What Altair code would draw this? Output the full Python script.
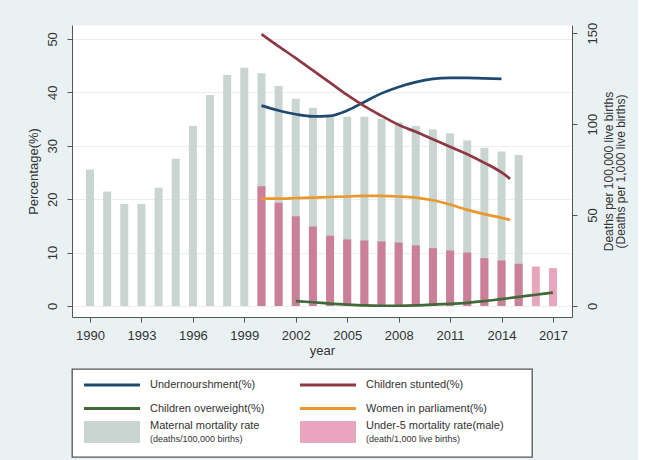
import altair as alt
import pandas as pd

# ---- data -------------------------------------------------------------
years_mmr = list(range(1990, 2016))
maternal = [75, 63, 56, 56, 65, 81, 99, 116, 127, 131, 128, 121, 114, 109,
            105, 104, 104, 103, 101, 99, 97, 95, 91, 87, 85, 83]

years_u5 = list(range(2000, 2018))
under5_male = [65.8, 56.8, 49.3, 43.7, 38.6, 36.6, 36.0, 35.5, 34.9, 33.3,
               31.8, 30.5, 29.4, 26.3, 25.0, 23.2, 21.7, 20.8]

years_under = list(range(2000, 2015))
undernourishment = [37.5, 36.6, 35.9, 35.5, 35.6, 36.6, 38.2, 39.8, 41.0,
                    41.9, 42.5, 42.7, 42.7, 42.6, 42.5]

years_stunt = list(range(2000, 2015)) + [2014.5]
stunted = [50.9, 48.6, 46.4, 44.1, 41.8, 39.5, 37.4, 35.6, 33.9, 32.6, 31.2,
           29.8, 28.4, 26.8, 25.0, 23.8]

years_women = list(range(2000, 2015)) + [2014.5]
women = [20.1, 20.1, 20.2, 20.3, 20.4, 20.5, 20.6, 20.6, 20.5, 20.3, 19.8,
         19.0, 18.0, 17.2, 16.5, 16.1]

years_over = list(range(2002, 2018))
overweight = [0.9, 0.7, 0.45, 0.25, 0.1, 0.05, 0.05, 0.1, 0.25, 0.4, 0.6,
              0.9, 1.3, 1.7, 2.1, 2.5]

year_ticks = list(range(1990, 2018, 3))

# series names / legend texts
S_UNDER = "Undernourshment(%)"
S_STUNT = "Children stunted(%)"
S_OVER = "Children overweight(%)"
S_WOMEN = "Women in parliament(%)"
B_MMR = "Maternal"
B_U5_OVER = "Under-5 (overlap)"
B_U5 = "Under-5"

keys = [S_UNDER, S_STUNT, S_OVER, S_WOMEN, B_MMR, B_U5_OVER, B_U5]
palette = ["#1f4a70", "#8e3845", "#42693a", "#e8982c",
           "#c9d5d0", "#cc7f99", "#e9a5bd"]
color_scale = alt.Scale(domain=keys, range=palette)

FONT = "Liberation Sans"

# ---- tables -----------------------------------------------------------
mmr_df = pd.DataFrame({"year": years_mmr, "value": maternal, "key": B_MMR})
mmr_years = set(years_mmr)
u5_df = pd.DataFrame({
    "year": years_u5,
    "value": under5_male,
    "key": [B_U5_OVER if y in mmr_years else B_U5 for y in years_u5],
})

lines_df = pd.concat([
    pd.DataFrame({"year": years_under, "value": undernourishment, "key": S_UNDER}),
    pd.DataFrame({"year": years_stunt, "value": stunted, "key": S_STUNT}),
    pd.DataFrame({"year": years_over, "value": overweight, "key": S_OVER}),
    pd.DataFrame({"year": years_women, "value": women, "key": S_WOMEN}),
], ignore_index=True)

# ---- main panel -------------------------------------------------------
x_enc = alt.X(
    "year:Q",
    scale=alt.Scale(domain=[1988.95, 2018.11], nice=False, zero=False, padding=0),
    axis=alt.Axis(values=year_ticks, format="d", title="year", grid=False,
                  tickSize=5, labelPadding=7, titlePadding=2,
                  labelFontSize=13, titleFontSize=13),
)

y_right = alt.Y(
    "value:Q",
    stack=None,
    scale=alt.Scale(domain=[-6.07, 154.5], nice=False, zero=False),
    axis=alt.Axis(orient="right", values=[0, 50, 100, 150],
                  title=["Deaths per 100,000 live births",
                         "(Deaths per 1,000 live births)"],
                  labelAngle=270, titleAngle=270, grid=False,
                  tickSize=5, labelPadding=9, titlePadding=4,
                  labelFontSize=13, titleFontSize=12, titleLineHeight=12,
                  titleFontWeight="normal"),
)
bar_color = alt.Color("key:N", scale=color_scale, legend=None)

mmr_bars = alt.Chart(mmr_df).mark_bar(size=8).encode(
    x=x_enc, y=y_right, color=bar_color)
u5_bars = alt.Chart(u5_df).mark_bar(size=8).encode(
    x=x_enc, y=y_right, color=bar_color)
bars = alt.layer(mmr_bars, u5_bars)

lines = alt.Chart(lines_df).mark_line(
    strokeWidth=2.7, interpolate="monotone"
).encode(
    x=x_enc,
    y=alt.Y(
        "value:Q",
        scale=alt.Scale(domain=[-2.06, 52.6], nice=False, zero=False),
        axis=alt.Axis(orient="left", values=[0, 10, 20, 30, 40, 50],
                      title="Percentage(%)", labelAngle=270, titleAngle=270,
                      grid=True, gridColor="#eceeee",
                      tickSize=5, labelPadding=8, titlePadding=6,
                      labelFontSize=13, titleFontSize=13),
    ),
    color=alt.Color("key:N", scale=color_scale, legend=None),
    detail="key:N",
)

main = alt.layer(bars, lines).resolve_scale(y="independent").properties(
    width=500, height=292,
    view=alt.ViewBackground(fill="white", strokeOpacity=0),
)

# ---- legend panel -----------------------------------------------------
legend_entries = [
    (S_UNDER, "line", S_UNDER, ""),
    (S_STUNT, "line", S_STUNT, ""),
    (S_OVER, "line", S_OVER, ""),
    (S_WOMEN, "line", S_WOMEN, ""),
    (B_MMR, "bar", "Maternal mortality rate", "(deaths/100,000 births)"),
    (B_U5, "bar", "Under-5 mortality rate(male)", "(death/1,000 live births)"),
]
legend_df = pd.DataFrame(legend_entries, columns=["key", "kind", "label", "sub"])
legend_df["col"] = [i % 2 for i in range(len(legend_df))]
legend_df["row"] = [i // 2 for i in range(len(legend_df))]

lx = alt.X("col:Q", scale=alt.Scale(domain=[-0.0556, 2.074], nice=False, zero=False), axis=None)
lx2 = alt.X2("col:Q")
ly = alt.Y("row:Q", scale=alt.Scale(domain=[-0.681, 3.064], nice=False, zero=False, reverse=True), axis=None)
lcol = alt.Color("key:N", scale=color_scale, legend=None)

base = alt.Chart(legend_df)
sym_line = base.transform_filter("datum.kind == 'line'").mark_rule(
    strokeWidth=3, x2Offset=56).encode(x=lx, x2=lx2, y=ly, color=lcol)
sym_rect = base.transform_filter("datum.kind == 'bar'").mark_rect(
    x2Offset=56, yOffset=-11, y2Offset=11).encode(
    x=lx, x2=lx2, y=ly, y2=alt.Y2("row:Q"), color=lcol)
txt_line = base.transform_filter("datum.kind == 'line'").mark_text(
    align="left", dx=66, fontSize=11, font=FONT, color="#333").encode(
    x=lx, y=ly, text="label:N")
txt_bar = base.transform_filter("datum.kind == 'bar'").mark_text(
    align="left", dx=66, dy=-6, fontSize=11, font=FONT, color="#333").encode(
    x=lx, y=ly, text="label:N")
txt_sub = base.transform_filter("datum.kind == 'bar'").mark_text(
    align="left", dx=66, dy=7, fontSize=9, font=FONT, color="#333").encode(
    x=lx, y=ly, text="sub:N")

legend = alt.layer(sym_line, sym_rect, txt_line, txt_bar, txt_sub).properties(
    width=460, height=88,
    view=alt.ViewBackground(fill="white", stroke="#555", strokeWidth=1.3),
)

chart = alt.vconcat(main, legend, spacing=52, bounds="flush").properties(
    padding={"left": 27, "top": 22, "right": 12, "bottom": 3},
).configure(
    background="#eaf1f3",
    font=FONT,
).configure_axis(
    domainColor="#555",
    tickColor="#555",
    labelColor="#333",
    titleColor="#333",
    labelFont=FONT,
    titleFont=FONT,
    titleFontWeight="normal",
)

chart.save("out.html", embed_options={"renderer": "svg", "actions": False})
